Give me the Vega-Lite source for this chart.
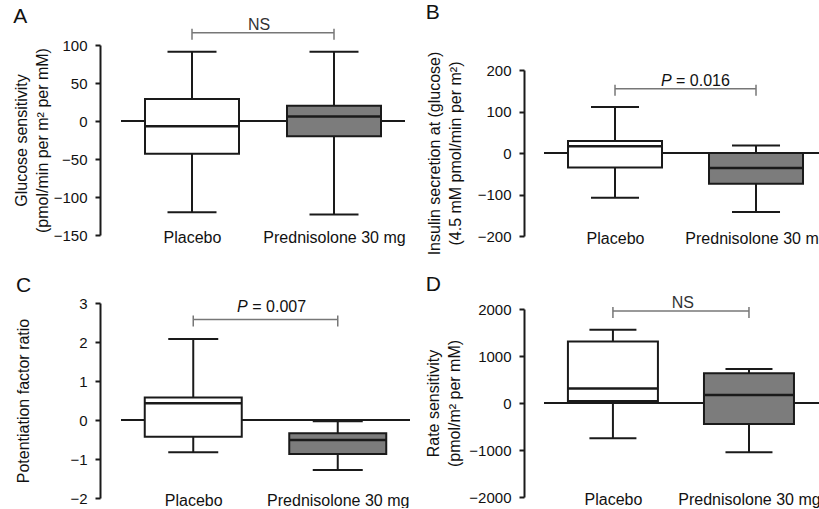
{
"$schema": "https://vega.github.io/schema/vega-lite/v6.json",
"background": "white",
"padding": {"left": 13, "top": 2, "right": 0, "bottom": 0},
"config": {
  "view": {"stroke": null},
  "font": "Liberation Sans",
  "axisY": {"domainColor": "#1a1a1a", "domainWidth": 2, "tickColor": "#1a1a1a", "tickWidth": 2, "tickSize": 5, "tickCount": 12, "labelFontSize": 15, "labelColor": "#111", "labelPadding": 8, "labelOverlap": false, "grid": false, "titleFontSize": 16, "titleFontWeight": "normal", "titleColor": "#111", "titleLineHeight": 21},
  "axisX": {"domain": false, "ticks": false, "tickSize": 0, "labelFontSize": 16, "labelColor": "#111", "labelPadding": 7, "labelBaseline": "alphabetic", "labelOverlap": false, "grid": false, "labelAngle": 0},
  "title": {"fontSize": 21, "fontWeight": "normal", "color": "#111", "anchor": "start", "frame": "bounds"}
},
"datasets": {
  "boxes": [
    {"panel": "A", "group": "Placebo", "lower": -120, "q1": -43, "median": -7, "q3": 29, "upper": 91},
    {"panel": "A", "group": "Prednisolone 30 mg", "lower": -123, "q1": -20, "median": 6, "q3": 20, "upper": 91},
    {"panel": "B", "group": "Placebo", "lower": -108, "q1": -35, "median": 16, "q3": 29, "upper": 111},
    {"panel": "B", "group": "Prednisolone 30 mg", "lower": -142, "q1": -74, "median": -36, "q3": 0, "upper": 18},
    {"panel": "C", "group": "Placebo", "lower": -0.83, "q1": -0.43, "median": 0.43, "q3": 0.58, "upper": 2.08},
    {"panel": "C", "group": "Prednisolone 30 mg", "lower": -1.28, "q1": -0.87, "median": -0.51, "q3": -0.34, "upper": -0.03},
    {"panel": "D", "group": "Placebo", "lower": -750, "q1": 40, "median": 310, "q3": 1310, "upper": 1560},
    {"panel": "D", "group": "Prednisolone 30 mg", "lower": -1050, "q1": -447, "median": 170, "q3": 631, "upper": 723}
  ],
  "brackets": [
    {"panel": "A", "from": "Placebo", "to": "Prednisolone 30 mg", "level": 116, "label": "NS"},
    {"panel": "B", "from": "Placebo", "to": "Prednisolone 30 mg", "level": 155, "label": "= 0.016"},
    {"panel": "C", "from": "Placebo", "to": "Prednisolone 30 mg", "level": 2.58, "label": "= 0.007"},
    {"panel": "D", "from": "Placebo", "to": "Prednisolone 30 mg", "level": 1960, "label": "NS"}
  ]
},
"spacing": 14,
"hconcat": [
 {"spacing": 30, "vconcat": [
  {
   "width": 284, "height": 190,
   "title": {"text": "A", "offset": -10},
   "layer": [
    {"data": {"name": "boxes"}, "transform": [{"filter": "datum.panel === 'A'"}],
     "mark": {"type": "rule", "strokeWidth": 2, "color": "#1a1a1a"},
     "encoding": {"y": {"datum": 0, "type": "quantitative", "title": ["Glucose sensitivity", "(pmol/min per m² per mM)"]}}},
    {"data": {"name": "boxes"}, "transform": [{"filter": "datum.panel === 'A'"}],
     "mark": {"type": "rule", "strokeWidth": 2, "color": "#1a1a1a"},
     "encoding": {
      "x": {"field": "group", "type": "nominal", "title": null, "sort": ["Placebo", "Prednisolone 30 mg"], "scale": {"type": "point", "domain": ["Placebo", "Prednisolone 30 mg"], "padding": 0.5, "align": 0.5}},
      "y": {"field": "lower", "type": "quantitative", "title": ["Glucose sensitivity", "(pmol/min per m² per mM)"], "scale": {"domain": [-150, 100], "nice": false, "zero": false}, "axis": {"values": [-150, -100, -50, 0, 50, 100], "tickCount": 12, "format": "d", "offset": 21, "titlePadding": 3}},
      "y2": {"field": "upper"}}},
    {"data": {"name": "boxes"}, "transform": [{"filter": "datum.panel === 'A'"}],
     "mark": {"type": "bar", "size": 94, "stroke": "#1a1a1a", "strokeWidth": 2, "opacity": 1},
     "encoding": {
      "x": {"field": "group", "type": "nominal", "title": null, "sort": ["Placebo", "Prednisolone 30 mg"]},
      "y": {"field": "q1", "type": "quantitative", "title": ["Glucose sensitivity", "(pmol/min per m² per mM)"]},
      "y2": {"field": "q3"},
      "fill": {"field": "group", "type": "nominal", "scale": {"domain": ["Placebo", "Prednisolone 30 mg"], "range": ["#ffffff", "#7c7c7c"]}, "legend": null}}},
    {"data": {"name": "boxes"}, "transform": [{"filter": "datum.panel === 'A'"}],
     "mark": {"type": "tick", "orient": "horizontal", "size": 94, "thickness": 2.5, "color": "#1a1a1a", "opacity": 1},
     "encoding": {
      "x": {"field": "group", "type": "nominal", "title": null, "sort": ["Placebo", "Prednisolone 30 mg"]},
      "y": {"field": "median", "type": "quantitative", "title": ["Glucose sensitivity", "(pmol/min per m² per mM)"]}}},
    {"data": {"name": "boxes"}, "transform": [{"filter": "datum.panel === 'A'"}],
     "mark": {"type": "tick", "orient": "horizontal", "size": 49, "thickness": 2, "color": "#1a1a1a", "opacity": 1},
     "encoding": {
      "x": {"field": "group", "type": "nominal", "title": null, "sort": ["Placebo", "Prednisolone 30 mg"]},
      "y": {"field": "lower", "type": "quantitative", "title": ["Glucose sensitivity", "(pmol/min per m² per mM)"]}}},
    {"data": {"name": "boxes"}, "transform": [{"filter": "datum.panel === 'A'"}],
     "mark": {"type": "tick", "orient": "horizontal", "size": 49, "thickness": 2, "color": "#1a1a1a", "opacity": 1},
     "encoding": {
      "x": {"field": "group", "type": "nominal", "title": null, "sort": ["Placebo", "Prednisolone 30 mg"]},
      "y": {"field": "upper", "type": "quantitative", "title": ["Glucose sensitivity", "(pmol/min per m² per mM)"]}}},
    {"data": {"name": "brackets"}, "transform": [{"filter": "datum.panel === 'A'"}],
     "mark": {"type": "rule", "strokeWidth": 1.5, "color": "#777777"},
     "encoding": {
      "x": {"field": "from", "type": "nominal", "title": null, "sort": ["Placebo", "Prednisolone 30 mg"]},
      "x2": {"field": "to"},
      "y": {"field": "level", "type": "quantitative", "title": ["Glucose sensitivity", "(pmol/min per m² per mM)"]}}},
    {"data": {"name": "brackets"}, "transform": [{"filter": "datum.panel === 'A'"}],
     "mark": {"type": "rule", "strokeWidth": 1.5, "color": "#777777", "yOffset": -4, "y2Offset": 7},
     "encoding": {
      "x": {"field": "from", "type": "nominal", "title": null, "sort": ["Placebo", "Prednisolone 30 mg"]},
      "y": {"field": "level", "type": "quantitative", "title": ["Glucose sensitivity", "(pmol/min per m² per mM)"]},
      "y2": {"field": "level"}}},
    {"data": {"name": "brackets"}, "transform": [{"filter": "datum.panel === 'A'"}],
     "mark": {"type": "rule", "strokeWidth": 1.5, "color": "#777777", "yOffset": -4, "y2Offset": 7},
     "encoding": {
      "x": {"field": "to", "type": "nominal", "title": null, "sort": ["Placebo", "Prednisolone 30 mg"]},
      "y": {"field": "level", "type": "quantitative", "title": ["Glucose sensitivity", "(pmol/min per m² per mM)"]},
      "y2": {"field": "level"}}},
    {"data": {"name": "brackets"}, "transform": [{"filter": "datum.panel === 'A'"}],
     "mark": {"type": "text", "align": "center", "baseline": "alphabetic", "dx": 67, "dy": -3, "fontSize": 16, "color": "#333333"},
     "encoding": {
      "x": {"field": "from", "type": "nominal", "title": null, "sort": ["Placebo", "Prednisolone 30 mg"]},
      "y": {"field": "level", "type": "quantitative", "title": ["Glucose sensitivity", "(pmol/min per m² per mM)"]},
      "text": {"field": "label"}}}
   ]
  },
  {
   "width": 289, "height": 195,
   "title": {"text": "C", "offset": 0},
   "layer": [
    {"data": {"name": "boxes"}, "transform": [{"filter": "datum.panel === 'C'"}],
     "mark": {"type": "rule", "strokeWidth": 2, "color": "#1a1a1a"},
     "encoding": {"y": {"datum": 0, "type": "quantitative", "title": "Potentiation factor ratio"}}},
    {"data": {"name": "boxes"}, "transform": [{"filter": "datum.panel === 'C'"}],
     "mark": {"type": "rule", "strokeWidth": 2, "color": "#1a1a1a"},
     "encoding": {
      "x": {"field": "group", "type": "nominal", "title": null, "sort": ["Placebo", "Prednisolone 30 mg"], "scale": {"type": "point", "domain": ["Placebo", "Prednisolone 30 mg"], "padding": 0.5, "align": 0.5}},
      "y": {"field": "lower", "type": "quantitative", "title": "Potentiation factor ratio", "scale": {"domain": [-2, 3], "nice": false, "zero": false}, "axis": {"values": [-2, -1, 0, 1, 2, 3], "tickCount": 12, "format": "d", "offset": 21, "titlePadding": 38}},
      "y2": {"field": "upper"}}},
    {"data": {"name": "boxes"}, "transform": [{"filter": "datum.panel === 'C'"}],
     "mark": {"type": "bar", "size": 97, "stroke": "#1a1a1a", "strokeWidth": 2, "opacity": 1},
     "encoding": {
      "x": {"field": "group", "type": "nominal", "title": null, "sort": ["Placebo", "Prednisolone 30 mg"]},
      "y": {"field": "q1", "type": "quantitative", "title": "Potentiation factor ratio"},
      "y2": {"field": "q3"},
      "fill": {"field": "group", "type": "nominal", "scale": {"domain": ["Placebo", "Prednisolone 30 mg"], "range": ["#ffffff", "#7c7c7c"]}, "legend": null}}},
    {"data": {"name": "boxes"}, "transform": [{"filter": "datum.panel === 'C'"}],
     "mark": {"type": "tick", "orient": "horizontal", "size": 97, "thickness": 2.5, "color": "#1a1a1a", "opacity": 1},
     "encoding": {
      "x": {"field": "group", "type": "nominal", "title": null, "sort": ["Placebo", "Prednisolone 30 mg"]},
      "y": {"field": "median", "type": "quantitative", "title": "Potentiation factor ratio"}}},
    {"data": {"name": "boxes"}, "transform": [{"filter": "datum.panel === 'C'"}],
     "mark": {"type": "tick", "orient": "horizontal", "size": 50, "thickness": 2, "color": "#1a1a1a", "opacity": 1},
     "encoding": {
      "x": {"field": "group", "type": "nominal", "title": null, "sort": ["Placebo", "Prednisolone 30 mg"]},
      "y": {"field": "lower", "type": "quantitative", "title": "Potentiation factor ratio"}}},
    {"data": {"name": "boxes"}, "transform": [{"filter": "datum.panel === 'C'"}],
     "mark": {"type": "tick", "orient": "horizontal", "size": 50, "thickness": 2, "color": "#1a1a1a", "opacity": 1},
     "encoding": {
      "x": {"field": "group", "type": "nominal", "title": null, "sort": ["Placebo", "Prednisolone 30 mg"]},
      "y": {"field": "upper", "type": "quantitative", "title": "Potentiation factor ratio"}}},
    {"data": {"name": "brackets"}, "transform": [{"filter": "datum.panel === 'C'"}],
     "mark": {"type": "rule", "strokeWidth": 1.5, "color": "#777777"},
     "encoding": {
      "x": {"field": "from", "type": "nominal", "title": null, "sort": ["Placebo", "Prednisolone 30 mg"]},
      "x2": {"field": "to"},
      "y": {"field": "level", "type": "quantitative", "title": "Potentiation factor ratio"}}},
    {"data": {"name": "brackets"}, "transform": [{"filter": "datum.panel === 'C'"}],
     "mark": {"type": "rule", "strokeWidth": 1.5, "color": "#777777", "yOffset": -4, "y2Offset": 7},
     "encoding": {
      "x": {"field": "from", "type": "nominal", "title": null, "sort": ["Placebo", "Prednisolone 30 mg"]},
      "y": {"field": "level", "type": "quantitative", "title": "Potentiation factor ratio"},
      "y2": {"field": "level"}}},
    {"data": {"name": "brackets"}, "transform": [{"filter": "datum.panel === 'C'"}],
     "mark": {"type": "rule", "strokeWidth": 1.5, "color": "#777777", "yOffset": -4, "y2Offset": 7},
     "encoding": {
      "x": {"field": "to", "type": "nominal", "title": null, "sort": ["Placebo", "Prednisolone 30 mg"]},
      "y": {"field": "level", "type": "quantitative", "title": "Potentiation factor ratio"},
      "y2": {"field": "level"}}},
    {"data": {"name": "brackets"}, "transform": [{"filter": "datum.panel === 'C'"}],
     "mark": {"type": "text", "align": "right", "baseline": "alphabetic", "dx": 54.5, "dy": -7, "fontSize": 16, "fontStyle": "italic", "color": "#111"},
     "encoding": {
      "x": {"field": "from", "type": "nominal", "title": null, "sort": ["Placebo", "Prednisolone 30 mg"]},
      "y": {"field": "level", "type": "quantitative", "title": "Potentiation factor ratio"},
      "text": {"value": "P"}}},
    {"data": {"name": "brackets"}, "transform": [{"filter": "datum.panel === 'C'"}],
     "mark": {"type": "text", "align": "left", "baseline": "alphabetic", "dx": 59, "dy": -7, "fontSize": 16, "color": "#111"},
     "encoding": {
      "x": {"field": "from", "type": "nominal", "title": null, "sort": ["Placebo", "Prednisolone 30 mg"]},
      "y": {"field": "level", "type": "quantitative", "title": "Potentiation factor ratio"},
      "text": {"field": "label"}}}
   ]
  }
 ]},
 {"spacing": 0, "title": {"text": "B", "offset": 17}, "vconcat": [
  {"width": 276, "height": 2, "data": {"values": [{"panel": "B"}]}, "mark": {"type": "text", "opacity": 0}, "encoding": {"text": {"value": ""}}},
  {
   "width": 276, "height": 166,
   "layer": [
    {"data": {"name": "boxes"}, "transform": [{"filter": "datum.panel === 'B'"}],
     "mark": {"type": "rule", "strokeWidth": 2, "color": "#1a1a1a"},
     "encoding": {"y": {"datum": 0, "type": "quantitative", "title": ["Insulin secretion at (glucose)", "(4.5 mM pmol/min per m²)"]}}},
    {"data": {"name": "boxes"}, "transform": [{"filter": "datum.panel === 'B'"}],
     "mark": {"type": "rule", "strokeWidth": 2, "color": "#1a1a1a"},
     "encoding": {
      "x": {"field": "group", "type": "nominal", "title": null, "sort": ["Placebo", "Prednisolone 30 mg"], "scale": {"type": "point", "domain": ["Placebo", "Prednisolone 30 mg"], "padding": 0.4787, "align": 0.526}},
      "y": {"field": "lower", "type": "quantitative", "title": ["Insulin secretion at (glucose)", "(4.5 mM pmol/min per m²)"], "scale": {"domain": [-200, 200], "nice": false, "zero": false}, "axis": {"values": [-200, -100, 0, 100, 200], "tickCount": 12, "format": "d", "offset": 20, "titlePadding": 14}},
      "y2": {"field": "upper"}}},
    {"data": {"name": "boxes"}, "transform": [{"filter": "datum.panel === 'B'"}],
     "mark": {"type": "bar", "size": 94, "stroke": "#1a1a1a", "strokeWidth": 2, "opacity": 1},
     "encoding": {
      "x": {"field": "group", "type": "nominal", "title": null, "sort": ["Placebo", "Prednisolone 30 mg"]},
      "y": {"field": "q1", "type": "quantitative", "title": ["Insulin secretion at (glucose)", "(4.5 mM pmol/min per m²)"]},
      "y2": {"field": "q3"},
      "fill": {"field": "group", "type": "nominal", "scale": {"domain": ["Placebo", "Prednisolone 30 mg"], "range": ["#ffffff", "#7c7c7c"]}, "legend": null}}},
    {"data": {"name": "boxes"}, "transform": [{"filter": "datum.panel === 'B'"}],
     "mark": {"type": "tick", "orient": "horizontal", "size": 94, "thickness": 2.5, "color": "#1a1a1a", "opacity": 1},
     "encoding": {
      "x": {"field": "group", "type": "nominal", "title": null, "sort": ["Placebo", "Prednisolone 30 mg"]},
      "y": {"field": "median", "type": "quantitative", "title": ["Insulin secretion at (glucose)", "(4.5 mM pmol/min per m²)"]}}},
    {"data": {"name": "boxes"}, "transform": [{"filter": "datum.panel === 'B'"}],
     "mark": {"type": "tick", "orient": "horizontal", "size": 48, "thickness": 2, "color": "#1a1a1a", "opacity": 1},
     "encoding": {
      "x": {"field": "group", "type": "nominal", "title": null, "sort": ["Placebo", "Prednisolone 30 mg"]},
      "y": {"field": "lower", "type": "quantitative", "title": ["Insulin secretion at (glucose)", "(4.5 mM pmol/min per m²)"]}}},
    {"data": {"name": "boxes"}, "transform": [{"filter": "datum.panel === 'B'"}],
     "mark": {"type": "tick", "orient": "horizontal", "size": 48, "thickness": 2, "color": "#1a1a1a", "opacity": 1},
     "encoding": {
      "x": {"field": "group", "type": "nominal", "title": null, "sort": ["Placebo", "Prednisolone 30 mg"]},
      "y": {"field": "upper", "type": "quantitative", "title": ["Insulin secretion at (glucose)", "(4.5 mM pmol/min per m²)"]}}},
    {"data": {"name": "brackets"}, "transform": [{"filter": "datum.panel === 'B'"}],
     "mark": {"type": "rule", "strokeWidth": 1.5, "color": "#777777"},
     "encoding": {
      "x": {"field": "from", "type": "nominal", "title": null, "sort": ["Placebo", "Prednisolone 30 mg"]},
      "x2": {"field": "to"},
      "y": {"field": "level", "type": "quantitative", "title": ["Insulin secretion at (glucose)", "(4.5 mM pmol/min per m²)"]}}},
    {"data": {"name": "brackets"}, "transform": [{"filter": "datum.panel === 'B'"}],
     "mark": {"type": "rule", "strokeWidth": 1.5, "color": "#777777", "yOffset": -4, "y2Offset": 7},
     "encoding": {
      "x": {"field": "from", "type": "nominal", "title": null, "sort": ["Placebo", "Prednisolone 30 mg"]},
      "y": {"field": "level", "type": "quantitative", "title": ["Insulin secretion at (glucose)", "(4.5 mM pmol/min per m²)"]},
      "y2": {"field": "level"}}},
    {"data": {"name": "brackets"}, "transform": [{"filter": "datum.panel === 'B'"}],
     "mark": {"type": "rule", "strokeWidth": 1.5, "color": "#777777", "yOffset": -4, "y2Offset": 7},
     "encoding": {
      "x": {"field": "to", "type": "nominal", "title": null, "sort": ["Placebo", "Prednisolone 30 mg"]},
      "y": {"field": "level", "type": "quantitative", "title": ["Insulin secretion at (glucose)", "(4.5 mM pmol/min per m²)"]},
      "y2": {"field": "level"}}},
    {"data": {"name": "brackets"}, "transform": [{"filter": "datum.panel === 'B'"}],
     "mark": {"type": "text", "align": "right", "baseline": "alphabetic", "dx": 56.7, "dy": -3, "fontSize": 16, "fontStyle": "italic", "color": "#111"},
     "encoding": {
      "x": {"field": "from", "type": "nominal", "title": null, "sort": ["Placebo", "Prednisolone 30 mg"]},
      "y": {"field": "level", "type": "quantitative", "title": ["Insulin secretion at (glucose)", "(4.5 mM pmol/min per m²)"]},
      "text": {"value": "P"}}},
    {"data": {"name": "brackets"}, "transform": [{"filter": "datum.panel === 'B'"}],
     "mark": {"type": "text", "align": "left", "baseline": "alphabetic", "dx": 61, "dy": -3, "fontSize": 16, "color": "#111"},
     "encoding": {
      "x": {"field": "from", "type": "nominal", "title": null, "sort": ["Placebo", "Prednisolone 30 mg"]},
      "y": {"field": "level", "type": "quantitative", "title": ["Insulin secretion at (glucose)", "(4.5 mM pmol/min per m²)"]},
      "text": {"field": "label"}}}
   ]
  },
  {"width": 276, "height": 18, "data": {"values": [{"panel": "D"}]}, "mark": {"type": "text", "opacity": 0}, "encoding": {"text": {"value": ""}}},
  {
   "width": 277, "height": 188,
   "title": {"text": "D", "offset": 0},
   "layer": [
    {"data": {"name": "boxes"}, "transform": [{"filter": "datum.panel === 'D'"}],
     "mark": {"type": "rule", "strokeWidth": 2, "color": "#1a1a1a"},
     "encoding": {"y": {"datum": 0, "type": "quantitative", "title": ["Rate sensitivity", "(pmol/m² per mM)"]}}},
    {"data": {"name": "boxes"}, "transform": [{"filter": "datum.panel === 'D'"}],
     "mark": {"type": "rule", "strokeWidth": 2, "color": "#1a1a1a"},
     "encoding": {
      "x": {"field": "group", "type": "nominal", "title": null, "sort": ["Placebo", "Prednisolone 30 mg"], "scale": {"type": "point", "domain": ["Placebo", "Prednisolone 30 mg"], "padding": 0.518, "align": 0.489}},
      "y": {"field": "lower", "type": "quantitative", "title": ["Rate sensitivity", "(pmol/m² per mM)"], "scale": {"domain": [-2000, 2000], "nice": false, "zero": false}, "axis": {"values": [-2000, -1000, 0, 1000, 2000], "tickCount": 12, "format": "d", "offset": 20, "titlePadding": 6}},
      "y2": {"field": "upper"}}},
    {"data": {"name": "boxes"}, "transform": [{"filter": "datum.panel === 'D'"}],
     "mark": {"type": "bar", "size": 90, "stroke": "#1a1a1a", "strokeWidth": 2, "opacity": 1},
     "encoding": {
      "x": {"field": "group", "type": "nominal", "title": null, "sort": ["Placebo", "Prednisolone 30 mg"]},
      "y": {"field": "q1", "type": "quantitative", "title": ["Rate sensitivity", "(pmol/m² per mM)"]},
      "y2": {"field": "q3"},
      "fill": {"field": "group", "type": "nominal", "scale": {"domain": ["Placebo", "Prednisolone 30 mg"], "range": ["#ffffff", "#7c7c7c"]}, "legend": null}}},
    {"data": {"name": "boxes"}, "transform": [{"filter": "datum.panel === 'D'"}],
     "mark": {"type": "tick", "orient": "horizontal", "size": 90, "thickness": 2.5, "color": "#1a1a1a", "opacity": 1},
     "encoding": {
      "x": {"field": "group", "type": "nominal", "title": null, "sort": ["Placebo", "Prednisolone 30 mg"]},
      "y": {"field": "median", "type": "quantitative", "title": ["Rate sensitivity", "(pmol/m² per mM)"]}}},
    {"data": {"name": "boxes"}, "transform": [{"filter": "datum.panel === 'D'"}],
     "mark": {"type": "tick", "orient": "horizontal", "size": 47, "thickness": 2, "color": "#1a1a1a", "opacity": 1},
     "encoding": {
      "x": {"field": "group", "type": "nominal", "title": null, "sort": ["Placebo", "Prednisolone 30 mg"]},
      "y": {"field": "lower", "type": "quantitative", "title": ["Rate sensitivity", "(pmol/m² per mM)"]}}},
    {"data": {"name": "boxes"}, "transform": [{"filter": "datum.panel === 'D'"}],
     "mark": {"type": "tick", "orient": "horizontal", "size": 47, "thickness": 2, "color": "#1a1a1a", "opacity": 1},
     "encoding": {
      "x": {"field": "group", "type": "nominal", "title": null, "sort": ["Placebo", "Prednisolone 30 mg"]},
      "y": {"field": "upper", "type": "quantitative", "title": ["Rate sensitivity", "(pmol/m² per mM)"]}}},
    {"data": {"name": "brackets"}, "transform": [{"filter": "datum.panel === 'D'"}],
     "mark": {"type": "rule", "strokeWidth": 1.5, "color": "#777777"},
     "encoding": {
      "x": {"field": "from", "type": "nominal", "title": null, "sort": ["Placebo", "Prednisolone 30 mg"]},
      "x2": {"field": "to"},
      "y": {"field": "level", "type": "quantitative", "title": ["Rate sensitivity", "(pmol/m² per mM)"]}}},
    {"data": {"name": "brackets"}, "transform": [{"filter": "datum.panel === 'D'"}],
     "mark": {"type": "rule", "strokeWidth": 1.5, "color": "#777777", "yOffset": -4, "y2Offset": 7},
     "encoding": {
      "x": {"field": "from", "type": "nominal", "title": null, "sort": ["Placebo", "Prednisolone 30 mg"]},
      "y": {"field": "level", "type": "quantitative", "title": ["Rate sensitivity", "(pmol/m² per mM)"]},
      "y2": {"field": "level"}}},
    {"data": {"name": "brackets"}, "transform": [{"filter": "datum.panel === 'D'"}],
     "mark": {"type": "rule", "strokeWidth": 1.5, "color": "#777777", "yOffset": -4, "y2Offset": 7},
     "encoding": {
      "x": {"field": "to", "type": "nominal", "title": null, "sort": ["Placebo", "Prednisolone 30 mg"]},
      "y": {"field": "level", "type": "quantitative", "title": ["Rate sensitivity", "(pmol/m² per mM)"]},
      "y2": {"field": "level"}}},
    {"data": {"name": "brackets"}, "transform": [{"filter": "datum.panel === 'D'"}],
     "mark": {"type": "text", "align": "center", "baseline": "alphabetic", "dx": 70, "dy": -3, "fontSize": 16, "color": "#333333"},
     "encoding": {
      "x": {"field": "from", "type": "nominal", "title": null, "sort": ["Placebo", "Prednisolone 30 mg"]},
      "y": {"field": "level", "type": "quantitative", "title": ["Rate sensitivity", "(pmol/m² per mM)"]},
      "text": {"field": "label"}}}
   ]
  }
 ]}
]
}
